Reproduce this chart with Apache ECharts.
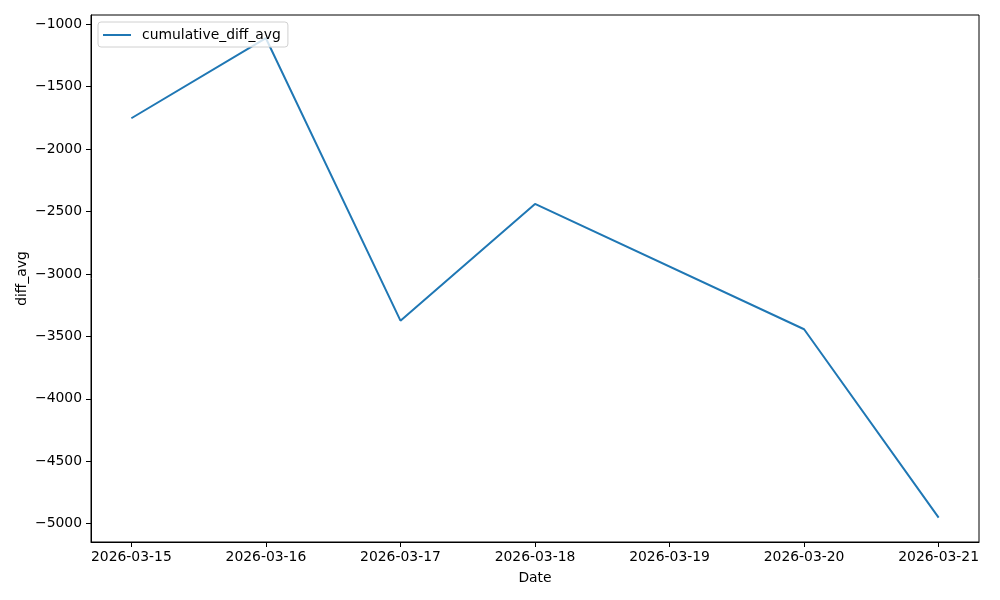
<!DOCTYPE html>
<html>
<head>
<meta charset="utf-8">
<script src="https://cdn.jsdelivr.net/npm/echarts@6/dist/echarts.min.js"></script>
<style>
  html, body { margin: 0; padding: 0; background: #fff; }
  #chart { width: 1000px; height: 600px; }
</style>
</head>
<body>
<div id="chart"></div>
<script>
// tick labels on the date axis
const tickDates = ['2026-03-15', '2026-03-16', '2026-03-17', '2026-03-18', '2026-03-19', '2026-03-20', '2026-03-21']
// observed points (no row for 03-19)
const pointDates = ['2026-03-15', '2026-03-16', '2026-03-17', '2026-03-18', '2026-03-20', '2026-03-21']
const diffAvg = [-1753, -1112, -3374, -2439, -3443, -4952]
const yTicks = [-5000, -4500, -4000, -3500, -3000, -2500, -2000, -1500, -1000]

const dayMs = 24 * 3600 * 1000
const dayIndex = (d) => (Date.parse(d + 'T00:00:00Z') - Date.parse(tickDates[0] + 'T00:00:00Z')) / dayMs
const minus = (v) => (v < 0 ? '\u2212' + Math.abs(v) : String(v))

const chart = echarts.init(document.getElementById('chart'))
const font = 'DejaVu Sans'
const fs = 13.9

const option = {
  animation: false,
  textStyle: { fontFamily: font },
  grid: {
    left: 91, right: 21, top: 15, bottom: 58,
    show: true, borderColor: '#000', borderWidth: 1
  },
  legend: {
    left: 98, top: 22,
    padding: [6, 7, 5, 5],
    itemWidth: 28, itemHeight: 14,
    borderColor: '#d0d0d0', borderWidth: 1, borderRadius: 3,
    backgroundColor: 'rgba(255,255,255,0.8)',
    textStyle: { fontFamily: font, fontSize: fs, color: '#000', padding: [0, 0, 0, 6] },
    data: [{ name: 'cumulative_diff_avg', icon: 'path://M0,0 L28,0 L28,2 L0,2 Z' }]
  },
  xAxis: {
    type: 'value',
    min: -0.3, max: 6.3,
    name: 'Date', nameLocation: 'middle', nameGap: 29,
    nameTextStyle: { fontFamily: font, fontSize: fs, color: '#000' },
    axisLine: { show: true, onZero: false, lineStyle: { color: '#000', width: 1 } },
    axisTick: { show: true, length: 5, lineStyle: { color: '#000' }, customValues: tickDates.map(dayIndex) },
    axisLabel: {
      fontFamily: font, fontSize: fs, color: '#000', margin: 8,
      customValues: tickDates.map(dayIndex),
      formatter: (v) => tickDates[Math.round(v)] || ''
    },
    splitLine: { show: false }
  },
  yAxis: {
    type: 'value',
    min: -5147, max: -926,
    name: 'diff_avg', nameLocation: 'middle', nameGap: 62, nameRotate: 90,
    nameMoveOverlap: false,
    nameTextStyle: { fontFamily: font, fontSize: fs, color: '#000' },
    axisLine: { show: true, onZero: false, lineStyle: { color: '#000', width: 1 } },
    axisTick: { show: true, length: 5, lineStyle: { color: '#000' }, customValues: yTicks },
    axisLabel: {
      fontFamily: font, fontSize: fs, color: '#000', margin: 9,
      customValues: yTicks,
      formatter: minus
    },
    splitLine: { show: false }
  },
  series: [{
    name: 'cumulative_diff_avg',
    type: 'line',
    symbol: 'none',
    color: '#1f77b4',
    lineStyle: { width: 2, color: '#1f77b4' },
    data: pointDates.map((d, i) => [dayIndex(d), diffAvg[i]])
  }]
}

chart.setOption(option)
</script>
</body>
</html>
